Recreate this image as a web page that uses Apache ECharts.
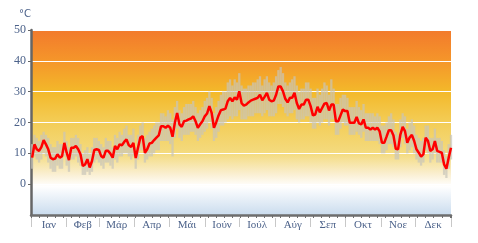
<!DOCTYPE html>
<html><head><meta charset="utf-8">
<script src="https://cdn.jsdelivr.net/npm/echarts@6/dist/echarts.min.js"></script>
<style>html,body{margin:0;padding:0;background:#fff}#c{width:478px;height:243px}</style>
</head><body><div id="c"></div>
<script>
const months = ['Ιαν','Φεβ','Μάρ','Απρ','Μάι','Ιούν','Ιούλ','Αύγ','Σεπ','Οκτ','Νοε','Δεκ'];
const monthStarts = [0,31,59,90,120,151,181,212,243,273,304,334,365];
const sampleDays = 2; // days per sample
const meanTemp = [
8.6,12.9,11.3,10.8,12.0,14.3,12.9,11.3,8.6,8.1,
8.3,9.7,8.6,9.1,13.4,10.2,7.8,11.8,11.8,12.4,
11.3,9.7,5.9,6.4,8.1,5.4,7.5,11.1,11.3,11.1,
9.1,8.6,10.8,10.8,9.9,8.6,12.4,11.3,12.9,12.6,
13.7,14.5,12.6,12.1,13.4,8.5,11.8,15.1,15.6,10.2,
11.3,13.2,13.4,14.3,15.1,15.8,18.8,18.8,18.3,19.0,
18.3,15.4,19.9,23.1,19.4,18.6,20.4,20.6,21.0,21.3,
22.0,20.4,18.3,19.4,20.4,22.0,22.9,25.3,23.1,18.3,
20.1,22.3,24.0,24.2,24.5,26.9,28.0,26.9,28.1,27.4,
30.1,26.3,25.5,25.8,26.5,27.1,27.4,27.7,28.0,29.0,
27.2,28.3,29.6,27.4,26.9,27.1,29.0,31.7,31.7,30.1,
27.7,26.5,28.0,28.0,29.6,26.3,24.4,25.8,25.8,27.4,
27.4,25.3,22.3,22.6,25.1,23.3,24.7,26.1,26.3,23.9,
25.8,25.8,20.4,20.4,22.3,24.2,23.7,23.7,19.9,19.9,
19.9,21.8,19.7,19.4,21.0,18.3,18.3,17.7,18.3,17.7,
18.3,17.1,13.4,13.4,15.4,17.5,17.5,15.8,11.5,11.3,
16.1,18.6,17.2,13.4,15.1,16.0,14.0,11.3,10.2,8.9,
9.7,15.1,14.0,10.8,11.3,14.0,10.8,10.5,10.2,6.4,
5.0,8.6,11.8];
const highTemp = [
13,16,15,14,16,17,16,15,13,12,
12,14,13,13,17,14,12,15,15,16,
15,13,10,11,12,10,12,15,15,14,
13,12,15,14,14,12,16,15,17,16,
18,19,16,16,18,12,16,19,20,15,
16,17,18,19,20,20,23,23,22,24,
23,21,25,27,24,23,25,26,26,26,
27,25,23,24,25,27,28,30,28,23,
25,27,29,30,30,33,34,32,34,33,
36,32,31,31,32,32,33,33,34,35,
32,34,35,33,32,33,35,37,38,36,
33,32,33,34,35,32,30,31,31,33,
33,31,28,28,31,29,31,33,32,29,
34,31,26,26,28,29,29,28,25,25,
25,27,25,24,26,23,23,23,23,22,
23,22,19,19,20,22,23,21,17,16,
21,23,22,18,20,21,19,16,15,14,
15,19,19,15,15,18,15,15,14,11,
9,13,16];
const lowTemp = [
5,9,8,7,8,10,9,7,5,4,
4,6,5,5,9,6,4,8,8,9,
7,6,3,3,4,3,4,7,8,7,
6,5,7,7,6,5,8,7,9,9,
10,10,9,8,9,5,8,11,11,7,
8,9,9,10,11,11,14,14,14,14,
13,9,15,18,15,14,16,16,16,17,
17,16,14,15,16,17,18,20,18,14,
15,17,19,19,20,21,22,21,22,22,
24,21,21,21,22,22,22,23,23,23,
22,23,24,22,22,22,23,26,26,25,
23,22,23,23,24,21,20,21,21,22,
22,20,18,18,20,19,20,21,21,19,
21,21,16,16,18,20,19,19,16,16,
16,17,16,15,17,14,14,14,14,14,
14,13,10,10,11,13,13,12,8,8,
12,15,13,10,11,12,10,8,7,6,
7,11,10,7,8,10,7,7,7,3,
2,5,8];
const yMin = -10, yMax = 50, yStep = 10;
const yLabelTicks = [0,10,20,30,40,50];
const unit = '°C';

const dayOf = i => i * sampleDays + 1;
const lineData = meanTemp.map((v, i) => [dayOf(i), v]);
const rangeData = highTemp.map((v, i) => [dayOf(i), lowTemp[i], v]);
const monthMids = months.map((m, i) => (monthStarts[i] + monthStarts[i + 1]) / 2);
const labelColor = '#4c628a';
const font = 'Liberation Serif';

const chart = echarts.init(document.getElementById('c'));
chart.setOption({
  animation: false,
  grid: {
    left: 31, right: 27, top: 30, bottom: 28, show: true, borderWidth: 0,
    backgroundColor: new echarts.graphic.LinearGradient(0, 0, 0, 1, [
      {offset: 0, color: '#f27a2c'},
      {offset: 0.167, color: '#f5962a'},
      {offset: 0.335, color: '#f3b92a'},
      {offset: 0.5, color: '#f3cd57'},
      {offset: 0.67, color: '#f4db80'},
      {offset: 0.78, color: '#faefd2'},
      {offset: 0.845, color: '#ffffff'},
      {offset: 1, color: '#cadcee'}
    ])
  },
  xAxis: [{
    type: 'value', min: 0, max: 365, interval: 7,
    axisLine: {show: true, onZero: false, lineStyle: {color: '#6e6e6e', width: 2.5}},
    axisTick: {show: true, length: 3, lineStyle: {color: '#6e6e6e', width: 1}},
    axisLabel: {show: false},
    splitLine: {show: false}
  }, {
    type: 'value', min: 0, max: 365, position: 'bottom', offset: 3,
    axisLine: {show: false, onZero: false},
    axisTick: {show: true, customValues: monthStarts, length: 9, lineStyle: {color: '#c8c8c8', width: 1}},
    axisLabel: {
      show: true, customValues: monthMids, margin: 2,
      formatter: v => { const k = monthMids.indexOf(v); return k >= 0 ? months[k] : ''; },
      color: labelColor, fontFamily: font, fontSize: 11
    },
    splitLine: {show: false}
  }],
  yAxis: {
    type: 'value', min: yMin, max: yMax, interval: yStep,
    name: unit, nameLocation: 'end', nameGap: 11,
    nameTextStyle: {color: labelColor, fontFamily: 'DejaVu Sans', fontSize: 10, align: 'right'},
    axisLine: {show: true, lineStyle: {color: '#666666', width: 2.5}},
    axisTick: {show: true, length: 3, customValues: yLabelTicks, lineStyle: {color: '#666666'}},
    axisLabel: {color: labelColor, fontFamily: font, fontSize: 12, margin: 5,
      customValues: yLabelTicks},
    splitLine: {show: true, lineStyle: {color: '#ffffff', width: 1}}
  },
  series: [{
    type: 'custom', data: rangeData, silent: true,
    encode: {x: 0, y: [1, 2]},
    renderItem: function (params, api) {
      const p1 = api.coord([api.value(0), api.value(1)]);
      const p2 = api.coord([api.value(0), api.value(2)]);
      const w = api.size([sampleDays, 0])[0];
      return {
        type: 'rect',
        shape: {x: p1[0] - w / 2, y: p2[1], width: w, height: p1[1] - p2[1]},
        style: {fill: 'rgba(200,196,186,0.7)'}
      };
    }
  }, {
    type: 'line', data: lineData, showSymbol: false, symbol: 'none',
    lineStyle: {color: '#ff0000', width: 2.5}, z: 5
  }]
});
</script></body></html>
